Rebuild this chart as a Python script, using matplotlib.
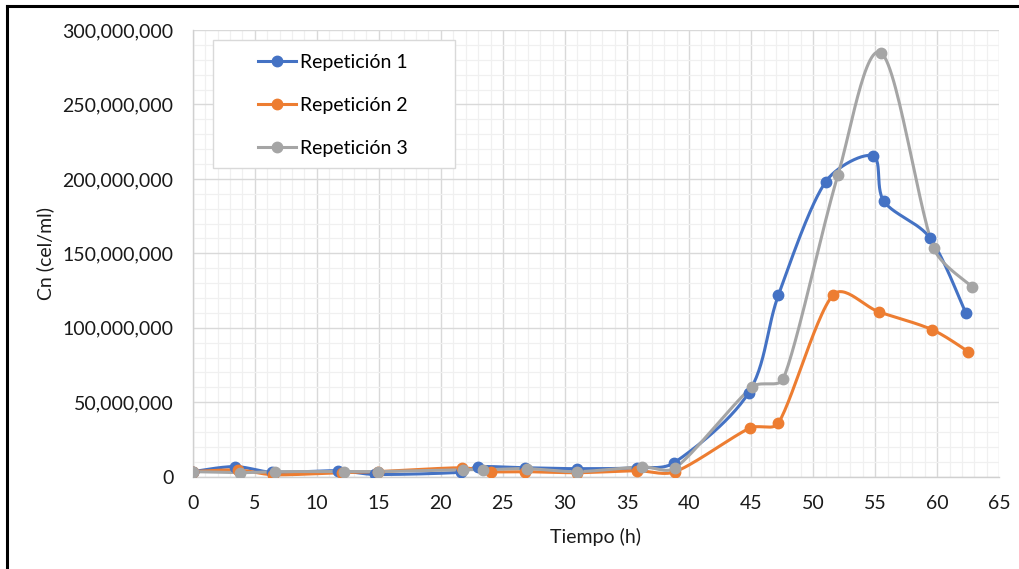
import matplotlib
matplotlib.use('Agg')
import matplotlib.pyplot as plt
import numpy as np
from matplotlib.ticker import MultipleLocator, FuncFormatter
from matplotlib.patches import Rectangle
from matplotlib.lines import Line2D

plt.rcParams['font.family'] = ['Lato', 'DejaVu Sans']

# datos (tiempo en h, Cn en millones de cel/ml)
t1 = [0, 3.4, 6.4, 11.7, 14.7, 21.6, 23.0, 26.8, 31.0, 35.8, 38.8, 44.8, 47.2, 51.0, 54.8, 55.7, 59.4, 62.3]
c1 = [3.4, 6.8, 3.0, 4.0, 1.5, 3.0, 6.7, 6.0, 5.4, 6.0, 9.4, 56.4, 122, 198, 215.5, 185, 160.5, 110]

t2 = [0, 3.65, 6.5, 12.0, 14.9, 21.7, 24.0, 26.8, 31.0, 35.8, 38.9, 44.9, 47.2, 51.6, 55.3, 59.6, 62.5]
c2 = [3.4, 4.5, 1.3, 2.7, 3.4, 6.0, 3.4, 3.4, 2.7, 4.0, 3.4, 32.7, 36, 122, 110.7, 98.7, 84]

t3 = [0, 3.8, 6.6, 12.2, 14.9, 21.8, 23.4, 26.9, 31.0, 36.2, 38.9, 45.1, 47.6, 52.0, 55.5, 59.7, 62.8]
c3 = [3.4, 2.7, 3.4, 3.4, 3.4, 4.7, 4.7, 5.4, 3.4, 6.7, 6.0, 60.4, 65.8, 202.7, 284.6, 153.7, 127.5]

series = [('Repetición 1', t1, c1, '#4472C4'),
          ('Repetición 2', t2, c2, '#ED7D31'),
          ('Repetición 3', t3, c3, '#A5A5A5')]

XMAX, YMAX = 65, 300e6
FS = 14

fig = plt.figure(figsize=(10.19, 5.69), dpi=100)
ax = fig.add_axes([192.7 / 1019, 1 - 476.7 / 569, (999.3 - 192.7) / 1019, (476.7 - 30) / 569])
ax.set_xlim(0, XMAX)
ax.set_ylim(0, YMAX)

# tamaño del área de trazado en píxeles (para suavizar como Excel)
W = (999.3 - 192.7)
H = (476.7 - 30)


def suavizar(x, y, n=30):
    # Catmull-Rom en coordenadas de pantalla, con los puntos de control limitados
    p = np.column_stack([np.array(x) / XMAX * W, np.array(y) / YMAX * H])
    pts = []
    for i in range(len(p) - 1):
        p0 = p[i - 1] if i > 0 else p[i]
        p1, p2 = p[i], p[i + 1]
        p3 = p[i + 2] if i + 2 < len(p) else p[i + 1]
        L = np.linalg.norm(p2 - p1)
        t1_ = (p2 - p0) / 6
        t2_ = (p3 - p1) / 6
        n1, n2 = np.linalg.norm(t1_), np.linalg.norm(t2_)
        if n1 > L / 3:
            t1_ = t1_ * (L / 3) / n1
        if n2 > L / 3:
            t2_ = t2_ * (L / 3) / n2
        c1_ = p1 + t1_
        c2_ = p2 - t2_
        s = np.linspace(0, 1, n)[:, None]
        seg = (1 - s) ** 3 * p1 + 3 * (1 - s) ** 2 * s * c1_ + 3 * (1 - s) * s ** 2 * c2_ + s ** 3 * p2
        pts.append(seg if i == 0 else seg[1:])
    pts = np.vstack(pts)
    return pts[:, 0] / W * XMAX, pts[:, 1] / H * YMAX


handles = []
for nombre, t, c, col in series:
    y = np.array(c) * 1e6
    xs, ys = suavizar(t, y)
    ax.plot(xs, ys, color=col, lw=2.2, zorder=4, solid_capstyle='round')
    ax.plot(t, y, 'o', color=col, ms=7.5, zorder=5)
    handles.append(Line2D([], [], color=col, lw=2.2, marker='o', ms=7.5, label=nombre))

# rejilla
ax.xaxis.set_major_locator(MultipleLocator(5))
ax.xaxis.set_minor_locator(MultipleLocator(1))
ax.yaxis.set_major_locator(MultipleLocator(50e6))
ax.yaxis.set_minor_locator(MultipleLocator(10e6))
ax.grid(which='major', color='#d9d9d9', lw=1.0)
ax.grid(which='minor', color='#f0f0f0', lw=0.9)
ax.set_axisbelow(True)
ax.yaxis.set_major_formatter(FuncFormatter(lambda v, pos: f'{v:,.0f}'))

for s in ['top', 'right']:
    ax.spines[s].set_visible(False)
for s in ['left', 'bottom']:
    ax.spines[s].set_color('#d0d0d0')
    ax.spines[s].set_linewidth(1.0)

ax.tick_params(which='both', length=0)
ax.tick_params(axis='x', pad=13, labelsize=FS, colors='#1a1a1a')
ax.tick_params(axis='y', pad=14, labelsize=FS, colors='#1a1a1a')

ax.set_xlabel('Tiempo (h)', fontsize=FS, labelpad=12, color='#1a1a1a')
ax.set_ylabel('Cn (cel/ml)', fontsize=FS, labelpad=6, color='#1a1a1a')

# cuadro de la leyenda
ax.add_patch(Rectangle(((213 - 192.7) / W, (476.7 - 168) / H), 242 / W, 128 / H,
                       transform=ax.transAxes, facecolor='white', edgecolor='#d9d9d9',
                       lw=1.0, zorder=6))
leg = ax.legend(handles=handles, loc='upper left',
                bbox_to_anchor=((252 - 192.7) / W, (476.7 - 48) / H),
                frameon=False, fontsize=FS, handlelength=1.95, handletextpad=0.2,
                labelspacing=1.33, borderpad=0.3, borderaxespad=0)
leg.set_zorder(7)

# marco exterior (arriba e izquierda)
fig.add_artist(Line2D([7 / 1019, 1], [1 - 6 / 569, 1 - 6 / 569], transform=fig.transFigure,
                      color='black', lw=2.2))
fig.add_artist(Line2D([7 / 1019, 7 / 1019], [0, 1 - 6 / 569], transform=fig.transFigure,
                      color='black', lw=2.2))

fig.savefig('out.png', dpi=100)
